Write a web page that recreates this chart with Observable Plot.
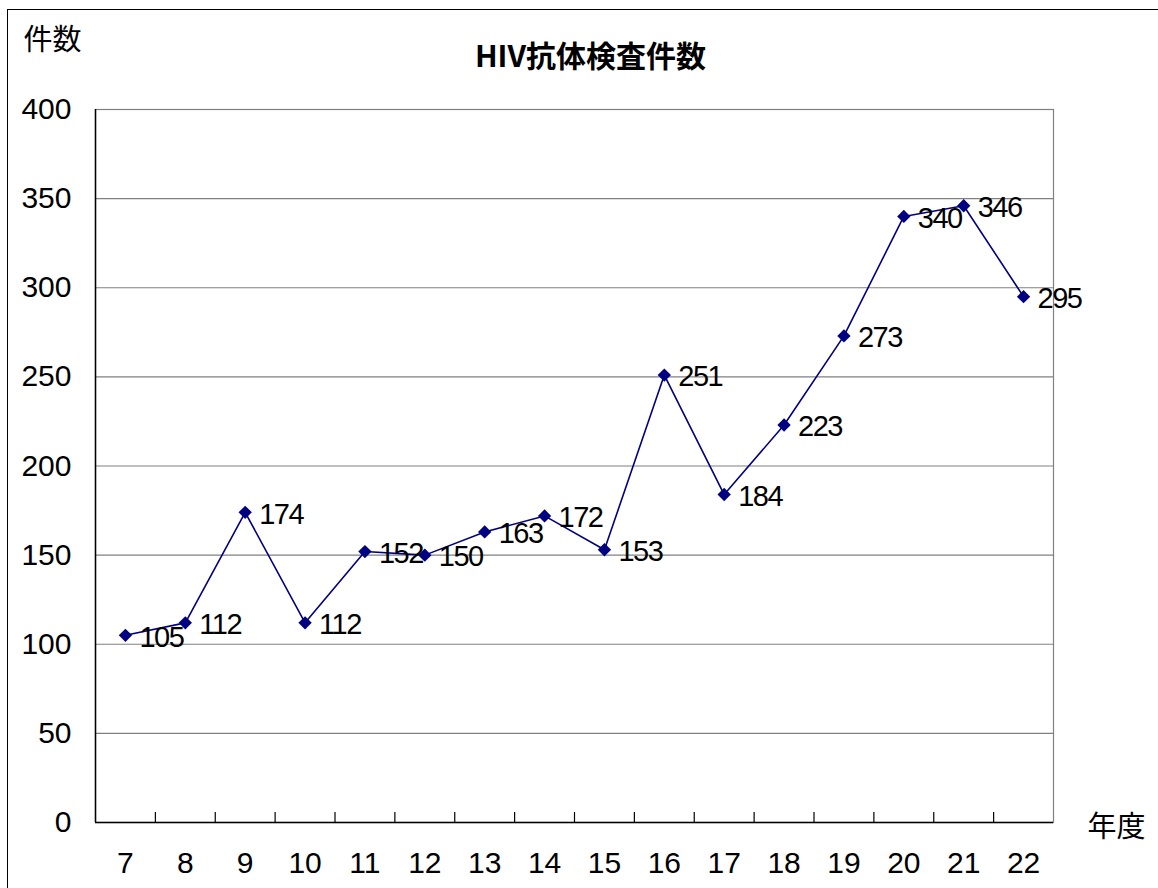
<!DOCTYPE html>
<html>
<head>
<meta charset="utf-8">
<script src="https://cdn.jsdelivr.net/npm/d3@7"></script>
<script src="https://cdn.jsdelivr.net/npm/@observablehq/plot@0.6"></script>
<style>
  html, body { margin: 0; padding: 0; background: #fff; overflow: hidden; width: 1158px; height: 888px; }
  #wrap { position: relative; width: 1158px; height: 888px; }
  #border { position: absolute; left: 7px; top: 9px; width: 1160px; height: 890px; border: 1px solid #000; box-sizing: border-box; pointer-events: none; }
  #chart { position: absolute; left: 0; top: 0; }
  .value-labels text { letter-spacing: -1.5px; }
</style>
</head>
<body>
<div id="wrap"><div id="chart"></div><div id="border"></div></div>
<script>
const years = [7, 8, 9, 10, 11, 12, 13, 14, 15, 16, 17, 18, 19, 20, 21, 22];
const counts = [105, 112, 174, 112, 152, 150, 163, 172, 153, 251, 184, 223, 273, 340, 346, 295];
const yTicks = [0, 50, 100, 150, 200, 250, 300, 350, 400];
const titleText = "HIV抗体検査件数";
const yLabel = "件数";
const xLabel = "年度";

const data = years.map((y, i) => ({year: y, count: counts[i]}));
const boundaries = years.slice(1).map(y => y - 0.5);
const xDomain = [years[0] - 0.5, years[years.length - 1] + 0.5];

const numFont = "'Liberation Sans', Arial, sans-serif";
const cjkFont = "'Noto Sans CJK JP', 'Noto Sans CJK SC', sans-serif";

const chart = Plot.plot({
  width: 1158,
  height: 888,
  marginLeft: 95,
  marginRight: 105,
  marginTop: 109,
  marginBottom: 66,
  style: {background: "#fff", fontFamily: numFont},
  x: {type: "linear", domain: xDomain, label: null},
  y: {domain: [0, 400], label: null},
  marks: [
    Plot.frame({stroke: "#808080", strokeWidth: 1.2}),
    Plot.ruleY(yTicks.filter(v => v > 0 && v < 400), {stroke: "#808080", strokeWidth: 1.2}),
    Plot.ruleY([0], {stroke: "#000", strokeWidth: 1.5}),
    Plot.ruleX([xDomain[0]], {stroke: "#000", strokeWidth: 1.5}),
    Plot.axisX({ticks: boundaries, tickSize: -10, text: null, label: null, stroke: "#000", strokeWidth: 1.2}),
    Plot.axisX({ticks: years, tickSize: 0, tickPadding: 29, tickFormat: d => String(d), fontSize: 30, fill: "#000", label: null, fontFamily: numFont}),
    Plot.axisY({ticks: yTicks, tickSize: 0, tickPadding: 24, fontSize: 30, fill: "#000", label: null, fontFamily: numFont}),
    Plot.line(data, {x: "year", y: "count", stroke: "#000080", strokeWidth: 1.6}),
    Plot.dot(data, {x: "year", y: "count", symbol: "diamond2", r: 6, fill: "#000080", stroke: "none"}),
    Plot.text(data, {x: "year", y: "count", text: d => String(d.count), textAnchor: "start", lineAnchor: "middle", dx: 14, dy: 2, fontSize: 29, fill: "#000", fontFamily: numFont, className: "value-labels"}),
    Plot.text([titleText], {frameAnchor: "top", dx: 16, dy: -52, lineAnchor: "middle", fontSize: 30, fontWeight: "bold", fill: "#000", fontFamily: cjkFont}),
    Plot.text([yLabel], {frameAnchor: "top-left", dx: -43, dy: -69, textAnchor: "middle", lineAnchor: "middle", fontSize: 29, fill: "#000", fontFamily: cjkFont}),
    Plot.text([xLabel], {frameAnchor: "bottom-right", dx: 63, dy: 5, textAnchor: "middle", lineAnchor: "middle", fontSize: 29, fill: "#000", fontFamily: cjkFont})
  ]
});
document.getElementById("chart").appendChild(chart);
</script>
</body>
</html>
